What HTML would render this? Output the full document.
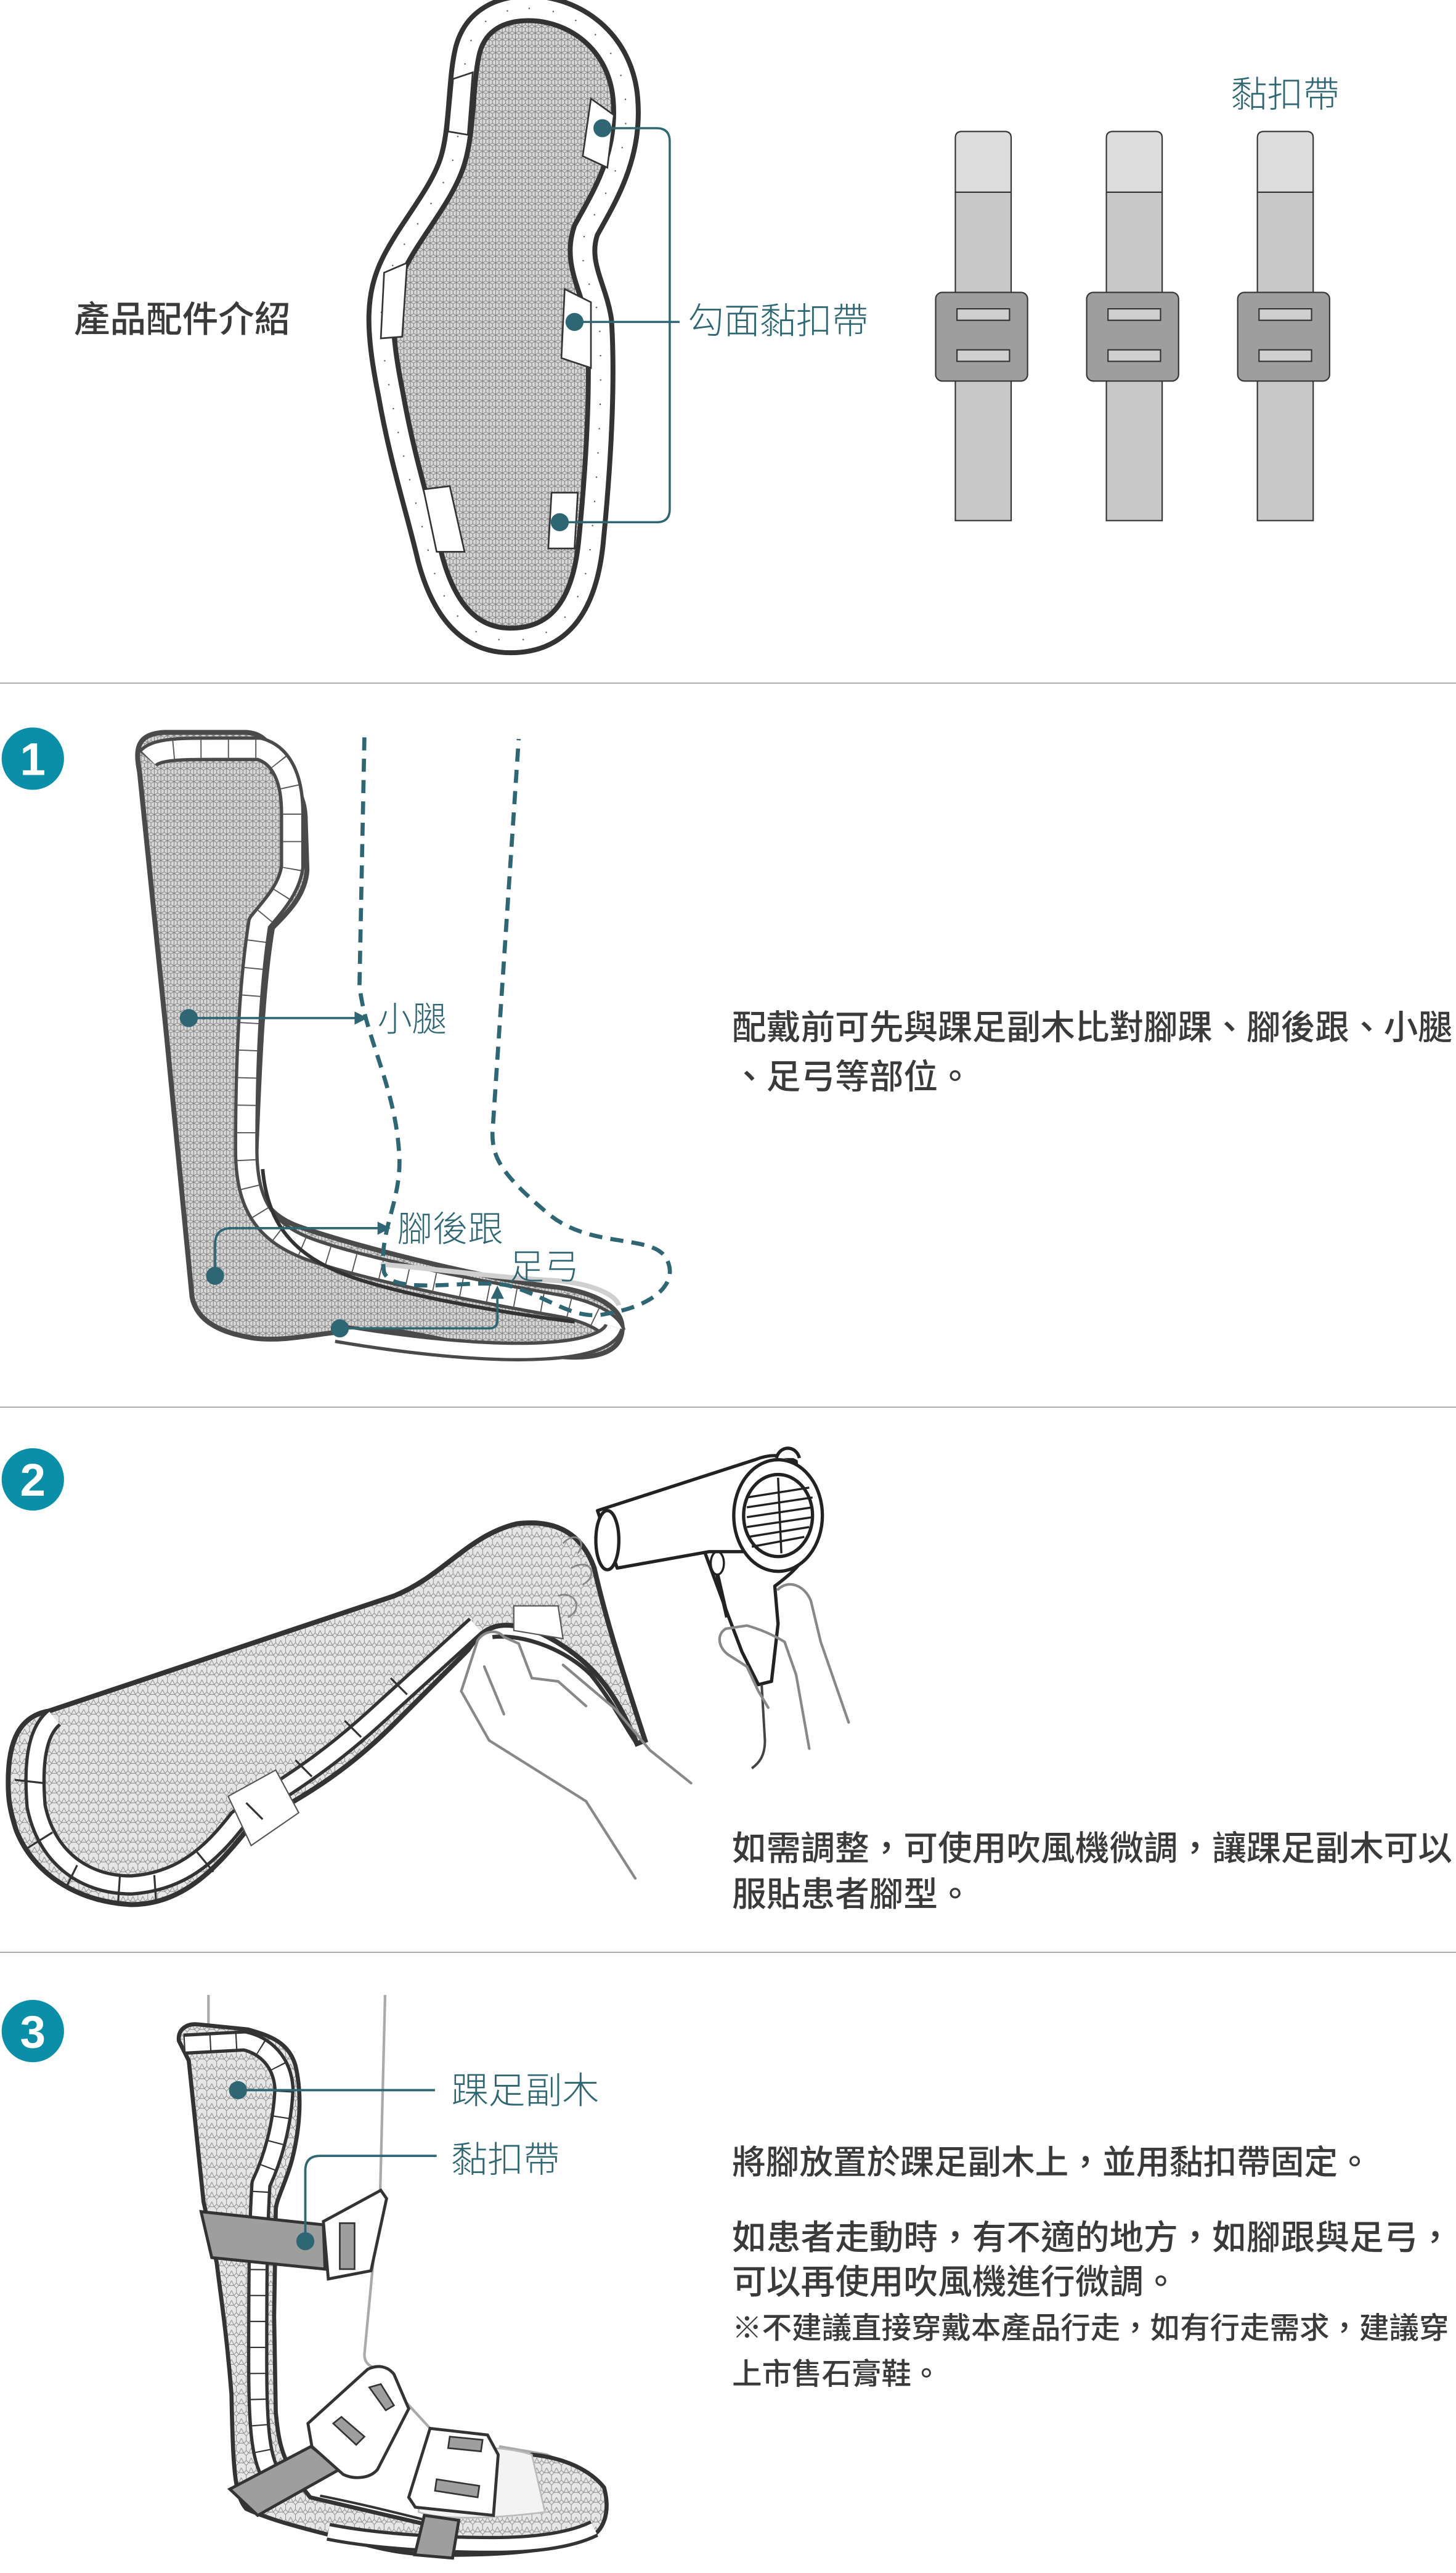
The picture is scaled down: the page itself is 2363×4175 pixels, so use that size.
<!DOCTYPE html>
<html><head><meta charset="utf-8">
<style>
html,body{margin:0;padding:0;background:#fff;}
svg{display:block;}
.b{font-family:"Liberation Sans","Noto Sans CJK TC",sans-serif;font-weight:500;fill:#3a3a3a;}
.t{font-family:"Liberation Sans","Noto Sans CJK TC",sans-serif;font-weight:300;fill:#2e6673;}
</style></head><body>
<svg width="2363" height="4175" viewBox="0 0 887 1567" xmlns="http://www.w3.org/2000/svg">
<defs>
<pattern id="mesh" width="4" height="4" patternUnits="userSpaceOnUse">
<rect width="4" height="4" fill="#d6d6d6"/>
<path d="M0 1 L2 0 L4 1 M0 3 L2 4 L4 3 M2 0 L2 4 M0 1 L0 3 M4 1 L4 3" stroke="#7a7a7a" stroke-width="0.35" fill="none"/>
</pattern>
<pattern id="hex" width="6" height="6" patternUnits="userSpaceOnUse">
<rect width="6" height="6" fill="#e6e6e6"/>
<path d="M0 1.5 L1.5 0 L4.5 0 L6 1.5 M0 1.5 L0 4.5 L1.5 6 M6 1.5 L6 4.5 L4.5 6 M1.5 6 L4.5 6 M3 3 L1.5 6 M3 3 L4.5 6" stroke="#8a8a8a" stroke-width="0.35" fill="none"/>
</pattern>
</defs>

<line x1="0" y1="416" x2="887" y2="416" stroke="#999" stroke-width="0.6"/>
<line x1="0" y1="857" x2="887" y2="857" stroke="#999" stroke-width="0.6"/>
<line x1="0" y1="1189" x2="887" y2="1189" stroke="#999" stroke-width="0.6"/>

<!-- ===== Section 0 ===== -->
<text x="45" y="202" class="b" font-size="22">產品配件介紹</text>

<g>
<path d="M322 5 C350 5 378 25 381 60 C384 95 368 120 357 140 C350 160 362 175 365 195 C368 240 363 300 360 330 C356 370 340 390 311 390 C285 390 270 370 262 340 C255 310 245 280 238 240 C230 200 230 180 240 160 C250 140 268 120 275 100 C282 80 280 50 285 30 C290 12 305 5 322 5 Z" fill="url(#mesh)" stroke="#333" stroke-width="18"/>
<path d="M322 5 C350 5 378 25 381 60 C384 95 368 120 357 140 C350 160 362 175 365 195 C368 240 363 300 360 330 C356 370 340 390 311 390 C285 390 270 370 262 340 C255 310 245 280 238 240 C230 200 230 180 240 160 C250 140 268 120 275 100 C282 80 280 50 285 30 C290 12 305 5 322 5 Z" fill="none" stroke="#fff" stroke-width="12"/>
<path d="M322 5 C350 5 378 25 381 60 C384 95 368 120 357 140 C350 160 362 175 365 195 C368 240 363 300 360 330 C356 370 340 390 311 390 C285 390 270 370 262 340 C255 310 245 280 238 240 C230 200 230 180 240 160 C250 140 268 120 275 100 C282 80 280 50 285 30 C290 12 305 5 322 5 Z" fill="none" stroke="#555" stroke-width="0.8" stroke-dasharray="0.8 14"/>
<g fill="#fff" stroke="#333" stroke-width="1">
<path d="M276 48 L288 44 L285 82 L273 80 Z"/>
<path d="M360 60 L374 70 L370 102 L355 95 Z"/>
<path d="M234 166 L248 160 L245 205 L232 206 Z"/>
<path d="M344 176 L360 184 L360 224 L342 218 Z"/>
<path d="M258 298 L274 296 L283 336 L266 336 Z"/>
<path d="M336 300 L352 300 L350 334 L334 334 Z"/>
</g>
</g>
<g stroke="#2e6673" stroke-width="1.3" fill="none">
<path d="M367 78 L400 78 Q408 78 408 86 L408 310 Q408 318 400 318 L341 318"/>
<path d="M350 196 L414 196"/>
</g>
<g fill="#2e6673">
<circle cx="367" cy="78" r="5.5"/><circle cx="350" cy="196" r="5.5"/><circle cx="341" cy="318" r="5.5"/>
</g>
<text x="419" y="203" class="t" font-size="22">勾面黏扣帶</text>
<text x="750" y="65" class="t" font-size="22">黏扣帶</text>

<g stroke="#333" stroke-width="0.8">
<g transform="translate(582,0)">
<path d="M0 84 Q0 80 4 80 L30 80 Q34 80 34 84 L34 117 L0 117 Z" fill="#dcdcdc"/>
<rect x="0" y="117" width="34" height="200" fill="#c8c8c8"/>
<rect x="-12" y="178" width="56" height="54" rx="4" fill="#9e9e9e"/>
<rect x="1" y="188" width="32" height="7" fill="#cfcfcf"/>
<rect x="1" y="213" width="32" height="7" fill="#cfcfcf"/>
</g>
<g transform="translate(674,0)">
<path d="M0 84 Q0 80 4 80 L30 80 Q34 80 34 84 L34 117 L0 117 Z" fill="#dcdcdc"/>
<rect x="0" y="117" width="34" height="200" fill="#c8c8c8"/>
<rect x="-12" y="178" width="56" height="54" rx="4" fill="#9e9e9e"/>
<rect x="1" y="188" width="32" height="7" fill="#cfcfcf"/>
<rect x="1" y="213" width="32" height="7" fill="#cfcfcf"/>
</g>
<g transform="translate(766,0)">
<path d="M0 84 Q0 80 4 80 L30 80 Q34 80 34 84 L34 117 L0 117 Z" fill="#dcdcdc"/>
<rect x="0" y="117" width="34" height="200" fill="#c8c8c8"/>
<rect x="-12" y="178" width="56" height="54" rx="4" fill="#9e9e9e"/>
<rect x="1" y="188" width="32" height="7" fill="#cfcfcf"/>
<rect x="1" y="213" width="32" height="7" fill="#cfcfcf"/>
</g>
</g>

<!-- ===== Section 1 ===== -->
<circle cx="20" cy="462" r="19" fill="#0b8fa8"/>
<text x="20" y="472" text-anchor="middle" font-family="Liberation Sans,sans-serif" font-weight="bold" font-size="28" fill="#fff">1</text>

<g>
<path d="M85 470 C82 455 84 447 100 446 L150 446 C165 447 168 460 166 470 C178 475 186 482 186 500 L187 530 C186 545 176 555 166 565 C160 600 158 650 156 700 C155 725 160 740 185 748 C220 760 300 780 340 784 C360 787 380 795 379 810 C378 825 360 828 340 826 C300 824 270 815 238 810 C205 808 180 818 155 815 C135 812 120 805 117 790 C108 700 95 560 85 470 Z" fill="url(#mesh)" stroke="#4a4a4a" stroke-width="3"/>
<!-- white rim bands -->
<path d="M90 462 C95 456 110 456 130 456 L158 456 C172 460 178 475 178 495 L178 528 C176 542 166 552 158 562 C152 600 150 650 150 700 C150 735 162 752 192 762 C230 775 300 788 345 796 C362 800 372 806 374 812" fill="none" stroke="#4a4a4a" stroke-width="15" stroke-linejoin="round"/>
<path d="M90 462 C95 456 110 456 130 456 L158 456 C172 460 178 475 178 495 L178 528 C176 542 166 552 158 562 C152 600 150 650 150 700 C150 735 162 752 192 762 C230 775 300 788 345 796 C362 800 372 806 374 812" fill="none" stroke="#fff" stroke-width="11" stroke-linejoin="round"/>
<path d="M90 462 C95 456 110 456 130 456 L158 456 C172 460 178 475 178 495 L178 528 C176 542 166 552 158 562 C152 600 150 650 150 700 C150 735 162 752 192 762 C230 775 300 788 345 796 C362 800 372 806 374 812" fill="none" stroke="#555" stroke-width="12" stroke-dasharray="0.7 16"/>
<path d="M205 812 C240 818 300 826 340 822 C360 820 372 815 374 808" fill="none" stroke="#4a4a4a" stroke-width="12"/>
<path d="M205 812 C240 818 300 826 340 822 C360 820 372 815 374 808" fill="none" stroke="#fff" stroke-width="8"/>
<path d="M160 712 C163 745 178 765 215 778 C250 790 310 800 350 805" fill="none" stroke="#333" stroke-width="2.2"/>
<path d="M232 770 C260 772 300 778 340 780 C360 782 375 788 377 795" fill="none" stroke="#d0d0d0" stroke-width="3"/>
</g>

<path d="M222 449 L219 600 C222 630 240 660 243 700 C246 730 230 750 234 775 C240 790 290 778 310 783 C335 790 350 805 370 800 C400 795 415 780 405 765 C395 752 360 760 335 740 C305 715 300 705 300 690 L316 450" fill="none" stroke="#2e6673" stroke-width="2.5" stroke-dasharray="8 5"/>

<g stroke="#2e6673" stroke-width="1.4" fill="none">
<path d="M115 620 L218 620"/>
<path d="M131 777 L131 758 Q131 748 141 748 L232 748"/>
<path d="M207 809 L298 809 Q303 809 303 804 L303 789"/>
</g>
<g fill="#2e6673">
<path d="M224 620 L216 616 L216 624 Z"/>
<path d="M238 748 L230 744 L230 752 Z"/>
<path d="M303 783 L299 791 L307 791 Z"/>
<circle cx="115" cy="620" r="5.5"/><circle cx="131" cy="777" r="5.5"/><circle cx="207" cy="809" r="5.5"/>
</g>
<text x="230" y="628" class="t" font-size="21">小腿</text>
<text x="242" y="756" class="t" font-size="21.5">腳後跟</text>
<text x="310" y="779" class="t" font-size="21.5">足弓</text>

<text x="446" y="633" class="b" font-size="20.9">配戴前可先與踝足副木比對腳踝、腳後跟、小腿</text>
<text x="446" y="663" class="b" font-size="20.9">、足弓等部位。</text>

<!-- ===== Section 2 ===== -->
<circle cx="20" cy="901" r="19" fill="#0b8fa8"/>
<text x="20" y="911" text-anchor="middle" font-family="Liberation Sans,sans-serif" font-weight="bold" font-size="28" fill="#fff">2</text>

<g>
<path d="M5 1085 C5 1060 12 1045 30 1042 L240 972 C270 960 285 935 315 928 C340 925 355 935 362 955 C370 990 380 1020 393 1060 L388 1062 C375 1030 360 1010 330 995 C305 985 295 990 285 1005 L240 1050 C200 1090 170 1100 150 1115 C130 1140 110 1160 80 1160 C45 1158 20 1140 10 1115 C5 1100 5 1092 5 1085 Z" fill="url(#hex)" stroke="#333" stroke-width="3"/>
<path d="M33 1046 C22 1055 20 1075 22 1100 C28 1130 50 1148 80 1148 C110 1146 128 1130 145 1108 C165 1092 190 1082 235 1040 L290 990" fill="none" stroke="#333" stroke-width="13"/>
<path d="M33 1046 C22 1055 20 1075 22 1100 C28 1130 50 1148 80 1148 C110 1146 128 1130 145 1108 C165 1092 190 1082 235 1040 L290 990" fill="none" stroke="#fff" stroke-width="9"/>
<path d="M300 997 C320 995 345 1005 360 1020 C372 1035 380 1050 388 1062" fill="none" stroke="#333" stroke-width="2.5"/>
<path d="M139 1094 L168 1078 L182 1104 L153 1124 Z" fill="#fff" stroke="#555" stroke-width="0.8"/>
<path d="M313 978 L340 978 L343 998 L313 993 Z" fill="#fff" stroke="#555" stroke-width="0.8"/>
<g stroke="#333" stroke-width="1.2">
<line x1="9" y1="1084" x2="27" y2="1086"/><line x1="16" y1="1126" x2="32" y2="1116"/><line x1="40" y1="1150" x2="47" y2="1136"/>
<line x1="72" y1="1158" x2="73" y2="1143"/><line x1="95" y1="1157" x2="94" y2="1142"/><line x1="130" y1="1140" x2="120" y2="1128"/>
<line x1="160" y1="1108" x2="150" y2="1098"/><line x1="190" y1="1082" x2="180" y2="1072"/><line x1="220" y1="1058" x2="210" y2="1048"/><line x1="248" y1="1032" x2="238" y2="1022"/>
</g>
<path d="M343 940 C350 932 358 938 352 946 M348 955 C360 948 365 960 355 965 M340 972 C350 968 356 980 346 985" fill="none" stroke="#888" stroke-width="1"/>
</g>

<g fill="none" stroke="#888" stroke-width="1.6" stroke-linecap="round">
<path d="M387 1144 L357 1097 L298 1060 L281 1030 L291 999 C295 993 303 992 307 997 L316 1001 L324 1022 L340 1024 L357 1039"/>
<path d="M421 1086 L396 1066 L375 1041 L343 1014"/>
<path d="M307 1044 L295 1015"/>
</g>

<g fill="#fff" stroke="#222" stroke-width="2" stroke-linejoin="round">
<path d="M427 939 L444 985 L452 1006 L462 1026 L470 1024 L474 989 L472 966 C480 960 486 955 492 946 L470 930 Z"/>
<path d="M364 920 L460 889 C470 885 478 886 485 890 L490 945 L432 945 L376 955 Z"/>
<ellipse cx="370" cy="938" rx="7" ry="18"/>
<path d="M473 888 C475 880 485 880 487 888"/>
<ellipse cx="474" cy="923" rx="27" ry="34"/>
<ellipse cx="474" cy="923" rx="21" ry="25" fill="#fff"/>
</g>
<g stroke="#222" stroke-width="1.3">
<line x1="455" y1="912" x2="493" y2="906"/><line x1="455" y1="918" x2="495" y2="912"/><line x1="455" y1="924" x2="495" y2="918"/><line x1="455" y1="930" x2="495" y2="924"/><line x1="456" y1="936" x2="493" y2="930"/><line x1="458" y1="942" x2="490" y2="936"/>
<line x1="474" y1="900" x2="476" y2="946"/>
</g>
<ellipse cx="437" cy="952" rx="4" ry="7" fill="none" stroke="#222" stroke-width="1.3"/>
<path d="M437 959 L443 985" stroke="#222" stroke-width="2.5"/>
<path d="M464 1026 L466 1060 C466 1070 462 1074 458 1077" fill="none" stroke="#444" stroke-width="1.5"/>
<g fill="none" stroke="#888" stroke-width="1.6" stroke-linecap="round">
<path d="M517 1049 L500 1000 L494 975 C490 965 480 962 474 968"/>
<path d="M493 1065 L485 1020 L478 1000 C470 995 462 992 455 990 L442 992 C436 996 438 1004 444 1008 L455 1015 L462 1030 L468 1040"/>
</g>

<text x="446" y="1133" class="b" font-size="20.9">如需調整，可使用吹風機微調，讓踝足副木可以</text>
<text x="446" y="1161" class="b" font-size="20.9">服貼患者腳型。</text>

<!-- ===== Section 3 ===== -->
<circle cx="20" cy="1237" r="19" fill="#0b8fa8"/>
<text x="20" y="1247" text-anchor="middle" font-family="Liberation Sans,sans-serif" font-weight="bold" font-size="28" fill="#fff">3</text>

<g fill="none" stroke="#aaa" stroke-width="1.6">
<path d="M127 1215 L127 1238"/>
<path d="M234.6 1215 L231.7 1332 L222 1434 Q222 1440 228 1442 L262 1479 M304 1490 L333 1495 C345 1500 350 1505 352 1510"/>
<path d="M329 1499 C335 1515 330 1530 318 1539"/>
</g>

<g>
<path d="M109 1243 C108 1236 114 1232 121 1233 L151 1236 C165 1240 176 1244 180 1258 C184 1275 183 1295 178 1315 C174 1330 168 1340 168 1346 L167 1411 L168 1469 C170 1490 172 1500 189 1521 L266 1539 C290 1528 305 1500 324 1495 C345 1497 360 1505 368 1515 C372 1530 368 1542 358 1546 C330 1555 300 1556 270 1556 C245 1556 230 1552 209 1546 C185 1540 165 1535 150 1528 C143 1520 142 1505 141 1458 C138 1420 134 1395 132 1378 C128 1360 125 1345 124 1341 L115 1255 Z" fill="url(#hex)" stroke="#333" stroke-width="2.5"/>
<path d="M112 1245 L149 1243 C162 1246 172 1256 173 1272 C172 1295 166 1315 159 1330 C157 1360 157 1400 157 1440 C157 1480 159 1500 167 1510" fill="none" stroke="#333" stroke-width="13" stroke-linejoin="round"/>
<path d="M112 1245 L149 1243 C162 1246 172 1256 173 1272 C172 1295 166 1315 159 1330 C157 1360 157 1400 157 1440 C157 1480 159 1500 167 1510" fill="none" stroke="#fff" stroke-width="9" stroke-linejoin="round"/>
<path d="M112 1245 L149 1243 C162 1246 172 1256 173 1272 C172 1295 166 1315 159 1330 C157 1360 157 1400 157 1440 C157 1480 159 1500 167 1510" fill="none" stroke="#333" stroke-width="10" stroke-dasharray="0.8 15"/>
<path d="M200 1542 C230 1548 270 1550 300 1550 C330 1550 350 1546 362 1540" fill="none" stroke="#333" stroke-width="11"/>
<path d="M200 1542 C230 1548 270 1550 300 1550 C330 1550 350 1546 362 1540" fill="none" stroke="#fff" stroke-width="7"/>
<path d="M195 1520 C220 1525 240 1530 260 1535" fill="none" stroke="#333" stroke-width="1.5"/>
<path d="M255 1500 C275 1490 300 1488 324 1495 L332 1530 C300 1534 270 1535 255 1530 Z" fill="#f3f3f3" stroke="#bbb" stroke-width="1"/>
</g>

<g stroke="#333" stroke-width="1.8">
<path d="M122.5 1347 L197 1355 L198 1382 L129 1375 Z" fill="#9e9e9e"/>
<path d="M197 1353 L232 1334 L235.5 1339 L226 1383 L200 1388 Z" fill="#fff"/>
<rect x="207" y="1354" width="9" height="28" fill="#9e9e9e" stroke-width="1"/>
<path d="M140 1516 L189.5 1490 L206.8 1504 L157 1532 Z" fill="#9e9e9e"/>
<path d="M258.5 1532 L279.5 1535 L275.7 1558 L252.7 1556 Z" fill="#9e9e9e"/>
<path d="M187.6 1476 L224 1443 C230 1440 236 1441 240 1446 L249 1467 L230 1504 C225 1510 215 1510 209 1507 L190 1490 Z" fill="#fff"/>
<path d="M262 1479 L297 1483 L303.5 1495 L300.6 1532 L253 1527 L249 1521 Z" fill="#fff"/>
</g>
<g fill="#9e9e9e" stroke="#333" stroke-width="1">
<path d="M225 1454 L232 1452 L240 1465 L235 1468 Z"/>
<path d="M203 1476 L208 1472 L222 1484 L217 1489 Z"/>
<path d="M274 1484 L294 1486 L293 1493 L273 1491 Z"/>
<path d="M266 1510 L292 1514 L291 1521 L265 1517 Z"/>
</g>

<g stroke="#2e6673" stroke-width="1.4" fill="none">
<path d="M145 1273 L265 1273"/>
<path d="M186 1365 L186 1322 Q186 1313 195 1313 L266 1313"/>
</g>
<g fill="#2e6673"><circle cx="145" cy="1273" r="5.5"/><circle cx="186" cy="1365" r="5.5"/></g>
<text x="275" y="1281" class="t" font-size="22.5">踝足副木</text>
<text x="275" y="1323" class="t" font-size="22">黏扣帶</text>

<text x="446" y="1324" class="b" font-size="20.5">將腳放置於踝足副木上，並用黏扣帶固定。</text>
<text x="446" y="1370" class="b" font-size="20.9">如患者走動時，有不適的地方，如腳跟與足弓，</text>
<text x="446" y="1397" class="b" font-size="20.9">可以再使用吹風機進行微調。</text>
<text x="446" y="1424" class="b" font-size="18.2">※不建議直接穿戴本產品行走，如有行走需求，建議穿</text>
<text x="446" y="1452" class="b" font-size="18.2">上市售石膏鞋。</text>
</svg>
</body></html>
